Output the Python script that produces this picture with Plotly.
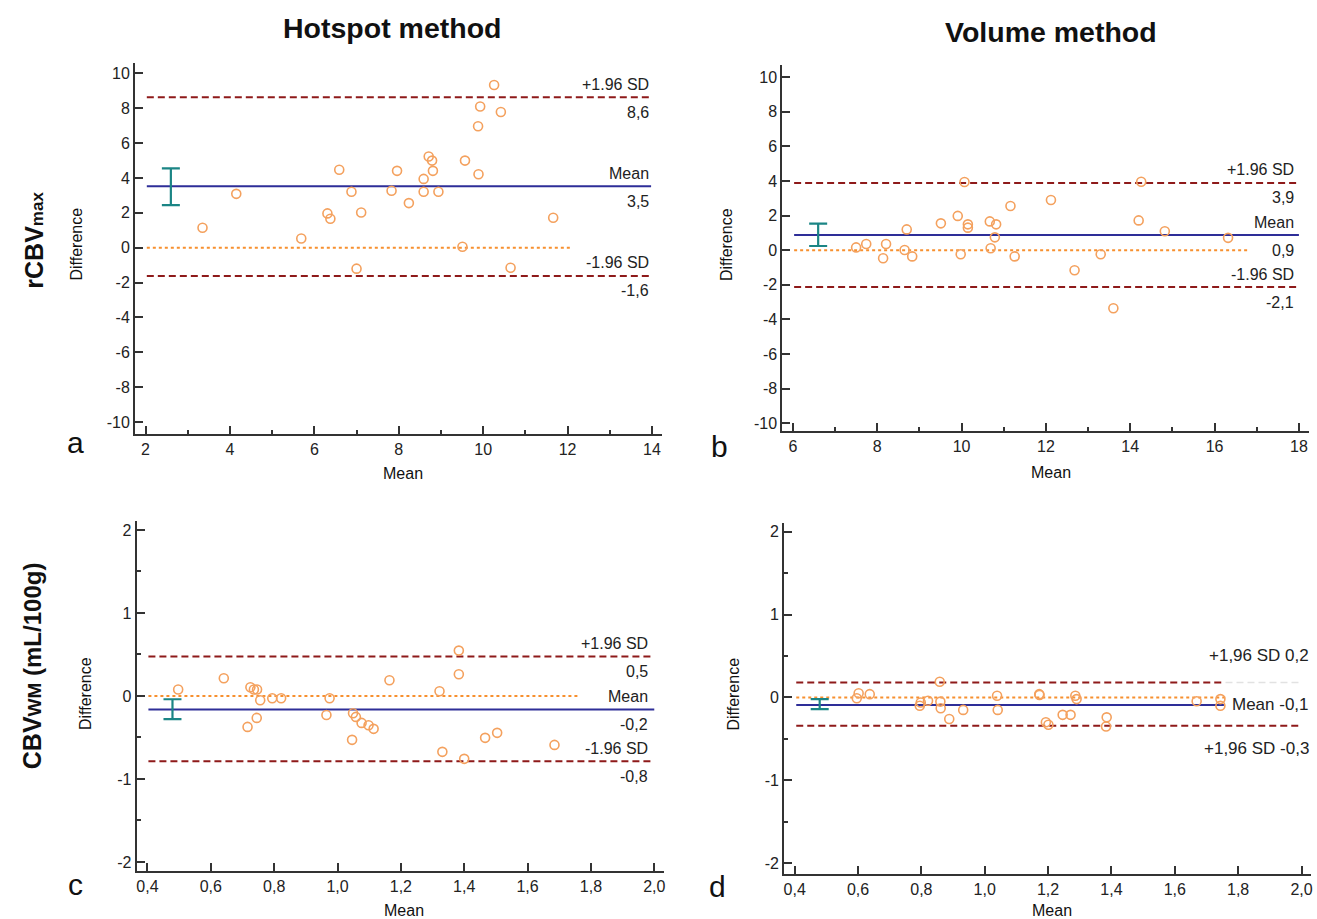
import plotly.graph_objects as go

W, H = 1317, 919
FONT = "Liberation Sans, Arial, Helvetica, sans-serif"

# ---------------- data ----------------
# Panel a: rCBVmax, hotspot method
a_mean = [3.35, 4.15, 5.69, 6.31, 6.38, 6.59, 6.88, 7.00, 7.11, 7.83, 7.96, 8.24, 8.59, 8.59,
          8.71, 8.79, 8.81, 8.94, 9.51, 9.57, 9.88, 9.89, 9.93, 10.26, 10.42, 10.65, 11.66]
a_diff = [1.15, 3.09, 0.53, 1.97, 1.66, 4.47, 3.21, -1.20, 2.02, 3.27, 4.41, 2.56, 3.95, 3.21,
          5.23, 5.00, 4.41, 3.21, 0.06, 5.00, 6.97, 4.22, 8.10, 9.34, 7.79, -1.15, 1.72]
a_limits = [8.64, 3.53, -1.62]          # +1.96 SD, mean, -1.96 SD
a_ci = [2.45, 4.55]
a_ci_x = 2.6
a_labels = ["+1.96 SD", "8,6", "Mean", "3,5", "-1.96 SD", "-1,6"]

# Panel b: rCBVmax, volume method
b_mean = [7.50, 7.74, 8.14, 8.21, 8.65, 8.70, 8.83, 9.51, 9.91, 9.98, 10.07, 10.15, 10.15, 10.67,
          10.69, 10.79, 10.82, 11.16, 11.26, 12.12, 12.68, 13.30, 13.60, 14.20, 14.26, 14.82, 16.32]
b_diff = [0.16, 0.36, -0.47, 0.36, 0.01, 1.20, -0.36, 1.55, 1.98, -0.24, 3.94, 1.49, 1.30, 1.66,
          0.11, 0.74, 1.49, 2.55, -0.36, 2.90, -1.16, -0.24, -3.36, 1.72, 3.95, 1.09, 0.71]
b_limits = [3.88, 0.87, -2.13]
b_ci = [0.24, 1.53]
b_ci_x = 6.6
b_labels = ["+1.96 SD", "3,9", "Mean", "0,9", "-1.96 SD", "-2,1"]

# Panel c: CBVwm, hotspot method
c_mean = [0.497, 0.641, 0.725, 0.736, 0.746, 0.756, 0.716, 0.745, 0.794, 0.822, 0.965, 0.975,
          1.046, 1.049, 1.058, 1.076, 1.098, 1.114, 1.164, 1.322, 1.331, 1.383, 1.383, 1.400,
          1.466, 1.504, 1.685]
c_diff = [0.077, 0.213, 0.105, 0.077, 0.077, -0.052, -0.373, -0.265, -0.028, -0.028, -0.229,
          -0.028, -0.529, -0.208, -0.253, -0.325, -0.353, -0.397, 0.189, 0.057, -0.674, 0.546,
          0.261, -0.758, -0.505, -0.445, -0.590]
c_limits = [0.474, -0.164, -0.786]
c_ci = [-0.28, -0.04]
c_ci_x = 0.479
c_labels = ["+1.96 SD", "0,5", "Mean", "-0,2", "-1.96 SD", "-0,8"]

# Panel d: CBVwm, volume method
d_mean = [0.596, 0.602, 0.637, 0.795, 0.798, 0.821, 0.858, 0.860, 0.861, 0.888, 0.932, 1.039,
          1.041, 1.172, 1.173, 1.193, 1.201, 1.246, 1.271, 1.286, 1.290, 1.383, 1.385, 1.669,
          1.744, 1.744]
d_diff = [-0.01, 0.05, 0.04, -0.10, -0.06, -0.04, 0.19, -0.05, -0.13, -0.26, -0.15, 0.02, -0.15,
          0.04, 0.03, -0.30, -0.33, -0.21, -0.21, 0.02, -0.02, -0.35, -0.24, -0.045, -0.02, -0.10]
d_limits = [0.18, -0.09, -0.34]
d_ci = [-0.14, -0.02]
d_ci_x = 0.479
d_labels = ["+1,96 SD 0,2", "Mean -0,1", "+1,96 SD -0,3"]

# ticks
ab_y_ticks = [-10, -8, -6, -4, -2, 0, 2, 4, 6, 8, 10]
ab_y_text = ["-10", "-8", "-6", "-4", "-2", "0", "2", "4", "6", "8", "10"]
a_x_ticks = [2, 4, 6, 8, 10, 12, 14]
a_x_minor = [3, 5, 7, 9, 11, 13]
b_x_ticks = [6, 8, 10, 12, 14, 16, 18]
b_x_minor = [7, 9, 11, 13, 15, 17]
cd_x_ticks = [0.4, 0.6, 0.8, 1.0, 1.2, 1.4, 1.6, 1.8, 2.0]
cd_x_text = ["0,4", "0,6", "0,8", "1,0", "1,2", "1,4", "1,6", "1,8", "2,0"]
cd_y_ticks = [-2, -1, 0, 1, 2]
cd_y_text = ["-2", "-1", "0", "1", "2"]
cd_y_minor = [-1.5, -0.5, 0.5, 1.5]

col_titles = ["Hotspot method", "Volume method"]

# ---------------- styling ----------------
C_PT = "#F4A15E"
C_ZERO = "#F7902F"
C_MEAN = "#2E2E98"
C_SD = "#8E1A1A"
C_CI = "#1B8585"
C_AX = "#333333"
C_TXT = "#222222"


def px_x(x):
    return x / W


def px_y(y):
    return 1 - y / H


fig = go.Figure()

panels = [
    dict(k="", mean=a_mean, diff=a_diff, lim=a_limits, ci=a_ci, cix=a_ci_x,
         line_x=[2.03, 13.98], zero_x=[2.03, 12.1]),
    dict(k="2", mean=b_mean, diff=b_diff, lim=b_limits, ci=b_ci, cix=b_ci_x,
         line_x=[6.03, 18.0], zero_x=[6.03, 16.8]),
    dict(k="3", mean=c_mean, diff=c_diff, lim=c_limits, ci=c_ci, cix=c_ci_x,
         line_x=[0.403, 2.0], zero_x=[0.403, 1.76]),
    dict(k="4", mean=d_mean, diff=d_diff, lim=d_limits, ci=d_ci, cix=d_ci_x,
         line_x=[0.405, 1.755], zero_x=[0.405, 1.76]),
]

for i, p in enumerate(panels):
    xa, ya = "x" + p["k"], "y" + p["k"]
    lx = p["line_x"]
    fig.add_trace(go.Scatter(x=p["zero_x"], y=[0, 0], mode="lines", xaxis=xa, yaxis=ya,
                             line=dict(color=C_ZERO, width=2, dash="dot"), hoverinfo="skip"))
    up_x = lx
    lo_x = lx if i != 3 else [0.405, 2.0]
    fig.add_trace(go.Scatter(x=up_x, y=[p["lim"][0]] * 2, mode="lines", xaxis=xa, yaxis=ya,
                             line=dict(color=C_SD, width=2, dash="7px,4px"), hoverinfo="skip"))
    if i == 3:
        fig.add_trace(go.Scatter(x=[1.76, 2.0], y=[p["lim"][0]] * 2, mode="lines", xaxis=xa,
                                 yaxis=ya, line=dict(color="#e2e2e2", width=1.5, dash="7px,4px"),
                                 hoverinfo="skip"))
    fig.add_trace(go.Scatter(x=lo_x, y=[p["lim"][2]] * 2, mode="lines", xaxis=xa, yaxis=ya,
                             line=dict(color=C_SD, width=2, dash="7px,4px"), hoverinfo="skip"))
    fig.add_trace(go.Scatter(x=lx, y=[p["lim"][1]] * 2, mode="lines", xaxis=xa, yaxis=ya,
                             line=dict(color=C_MEAN, width=2), hoverinfo="skip"))
    cmid = (p["ci"][0] + p["ci"][1]) / 2
    fig.add_trace(go.Scatter(x=[p["cix"]], y=[cmid], mode="markers", xaxis=xa, yaxis=ya,
                             marker=dict(size=1, color="rgba(0,0,0,0)"),
                             error_y=dict(type="data", symmetric=False,
                                          array=[p["ci"][1] - cmid], arrayminus=[cmid - p["ci"][0]],
                                          color=C_CI, thickness=2.2, width=9),
                             hoverinfo="skip"))
    fig.add_trace(go.Scatter(x=p["mean"], y=p["diff"], mode="markers", xaxis=xa, yaxis=ya,
                             marker=dict(symbol="circle-open", size=9, color=C_PT,
                                         line=dict(width=1.6, color=C_PT))))


def axis(domain, rng, tickvals, ticktext, minor_vals, anchor):
    d = dict(domain=domain, range=rng, tickmode="array", tickvals=tickvals, ticktext=ticktext,
             ticks="inside", ticklen=8, tickwidth=1.5, tickcolor=C_AX,
             showline=True, linecolor=C_AX, linewidth=2, showgrid=False, zeroline=False,
             tickfont=dict(size=16, color=C_TXT, family=FONT), anchor=anchor)
    if minor_vals:
        d["minor"] = dict(tickmode="array", tickvals=minor_vals, ticks="inside", ticklen=4,
                          tickwidth=1.5, tickcolor=C_AX, showgrid=False)
    return d


dom = {
    "a": ([134.3, 663.0], [62.7, 434.0]),
    "b": ([783.1, 1310.6], [65.0, 431.7]),
    "c": ([136.0, 664.6], [521.7, 872.0]),
    "d": ([785.0, 1313.0], [524.0, 874.5]),
}


def xd(k):
    return [px_x(dom[k][0][0]), px_x(dom[k][0][1])]


def yd(k):
    return [px_y(dom[k][1][1]), px_y(dom[k][1][0])]


fig.update_layout(
    xaxis=axis(xd("a"), [1.75, 14.25], a_x_ticks, [str(v) for v in a_x_ticks], a_x_minor, "y"),
    yaxis=axis(yd("a"), [-10.66, 10.62], ab_y_ticks, ab_y_text, None, "x"),
    xaxis2=axis(xd("b"), [5.75, 18.23], b_x_ticks, [str(v) for v in b_x_ticks], b_x_minor, "y2"),
    yaxis2=axis(yd("b"), [-10.46, 10.70], ab_y_ticks, ab_y_text, None, "x2"),
    xaxis3=axis(xd("c"), [0.366, 2.031], cd_x_ticks, cd_x_text, None, "y3"),
    yaxis3=axis(yd("c"), [-2.11, 2.106], cd_y_ticks, cd_y_text, cd_y_minor, "x3"),
    xaxis4=axis(xd("d"), [0.367, 2.030], cd_x_ticks, cd_x_text, None, "y4"),
    yaxis4=axis(yd("d"), [-2.125, 2.10], cd_y_ticks, cd_y_text, cd_y_minor, "x4"),
)

ann = []


def paper_text(text, x, y, size, angle=0, bold=False, xanchor="center"):
    ann.append(dict(text=("<b>%s</b>" % text) if bold else text, x=px_x(x), y=px_y(y),
                    xref="paper", yref="paper", showarrow=False, textangle=angle,
                    xanchor=xanchor, yanchor="middle",
                    font=dict(size=size, color="#111111", family=FONT)))


for p, lab, xr in [(panels[0], a_labels, 13.98), (panels[1], b_labels, 17.93),
                   (panels[2], c_labels, 1.985)]:
    xa, ya = "x" + p["k"], "y" + p["k"]
    for j in range(3):
        for t, sh in [(lab[2 * j], 13), (lab[2 * j + 1], -15)]:
            ann.append(dict(text=t, x=xr, y=p["lim"][j], xref=xa, yref=ya, showarrow=False,
                            xanchor="right", yanchor="middle", yshift=sh,
                            font=dict(size=16, color=C_TXT, family=FONT)))

ann.append(dict(text=d_labels[0], x=2.03, y=d_limits[0], xref="x4", yref="y4", showarrow=False,
                xanchor="right", yanchor="middle", yshift=27,
                font=dict(size=17, color=C_TXT, family=FONT)))
ann.append(dict(text=d_labels[1], x=1.775, y=d_limits[1], xref="x4", yref="y4", showarrow=False,
                xanchor="left", yanchor="middle",
                font=dict(size=17, color=C_TXT, family=FONT)))
ann.append(dict(text=d_labels[2], x=2.03, y=d_limits[2], xref="x4", yref="y4", showarrow=False,
                xanchor="right", yanchor="middle", yshift=-23,
                font=dict(size=17, color=C_TXT, family=FONT)))

for x, y in [(403, 474), (1052, 473), (404, 911), (1053, 911)]:
    paper_text("Mean", x, y, 16)
for x, y in [(76, 244), (727, 245), (84, 694), (734, 695)]:
    paper_text("Difference", x, y, 16, angle=-90)

paper_text(col_titles[0], 392, 28, 28.5, bold=True)
paper_text(col_titles[1], 1052, 32, 28.5, bold=True)

paper_text("rCBV<span style='font-size:17px'>max</span>", 33, 240, 25, angle=-90, bold=True)
paper_text("CBV<span style='font-size:19px'>WM</span><span style='font-size:24px'> (mL/100g)</span>",
           31, 666, 25, angle=-90, bold=True)

for t, x, y in [("a", 75, 443), ("b", 720, 447), ("c", 75, 885), ("d", 718, 887)]:
    paper_text(t, x, y, 30)

fig.update_layout(annotations=ann, width=W, height=H, margin=dict(l=0, r=0, t=0, b=0),
                  paper_bgcolor="white", plot_bgcolor="white", showlegend=False,
                  font=dict(family=FONT))

fig.write_html("out.html", config={"displayModeBar": False},
               post_script="document.body.style.margin='0px';document.body.style.padding='0px';"
                           "document.body.style.overflow='hidden';")
